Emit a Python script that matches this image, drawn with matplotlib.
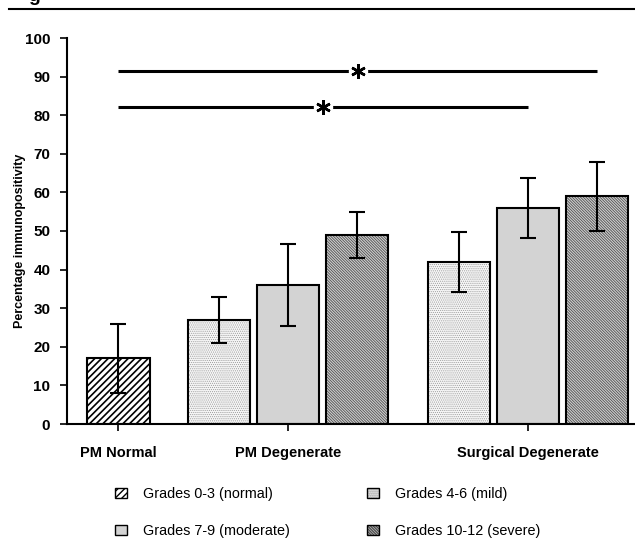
import numpy as np
import matplotlib.pyplot as plt
from matplotlib.patches import Patch
from matplotlib.legend_handler import HandlerTuple

plt.rcParams['font.family'] = ['Liberation Sans', 'DejaVu Sans']

groups = ['PM Normal', 'PM Degenerate', 'Surgical Degenerate']
grades = ['Grades 0-3 (normal)', 'Grades 4-6 (mild)',
          'Grades 7-9 (moderate)', 'Grades 10-12 (severe)']

# (group, grade) pairs, mean and error
bar_group = [0, 1, 1, 1, 2, 2, 2]
bar_grade = [0, 1, 2, 3, 1, 2, 3]
means = [17, 27, 36, 49, 42, 56, 59]
errs = [9, 6, 10.7, 6, 7.8, 7.8, 9]

# significance brackets: (from bar, to bar, height)
sig_from = [0, 0]
sig_to = [6, 5]
sig_y = [91.5, 82]

# styles per grade: face, hatch, hatch colour, hatch lw
faces = ['white', '#f6f6f6', '#d3d3d3', '#cfcfcf']
hatches = ['/////', '........', '', '\\' * 12]
hcolors = ['black', '#9a9a9a', '#d3d3d3', '#505050']
hlws = [1.2, 0.5, 0.5, 0.6]

group_start = [0.0, 1.457, 4.93]
tick_pos = [0.0, 2.457, 5.93]
width = 0.9

fig = plt.figure(figsize=(6.35, 5.4), dpi=100)
ax = fig.add_axes([67/635, 1-424/540, 1-67/635, (424-38)/540])

xs = []
cnt = {0: 0, 1: 0, 2: 0}
for g in bar_group:
    xs.append(group_start[g] + cnt[g])
    cnt[g] += 1

for x, m, e, gr in zip(xs, means, errs, bar_grade):
    with plt.rc_context({'hatch.linewidth': hlws[gr]}):
        ax.bar(x, m, width, color=faces[gr], hatch=hatches[gr],
               edgecolor=hcolors[gr], linewidth=0, zorder=2)
    ax.bar(x, m, width, color='none', edgecolor='black', linewidth=1.5, zorder=3)
    ax.errorbar(x, m, yerr=e, color='black', lw=1.5, capsize=6,
                capthick=1.5, zorder=4)

for a, b2, y in zip(sig_from, sig_to, sig_y):
    ax.plot([xs[a], xs[b2]], [y, y], color='black', lw=2.2, zorder=3,
            solid_capstyle='butt')
    mid = (xs[a] + xs[b2]) / 2
    ax.plot(mid, y, 'o', ms=14, mfc='white', mec='none', zorder=4)
    ax.plot(mid, y, marker=(6, 2, 0), ms=10.5, mec='black', mew=1.8,
            zorder=5)

ax.set_xlim(-0.746, 7.486)
ax.set_ylim(0, 100)
ax.set_yticks(np.arange(0, 101, 10))
ax.set_xticks(tick_pos)
ax.set_xticklabels(groups, fontweight='bold', fontsize=10.5)
for t in ax.get_yticklabels():
    t.set_fontweight('bold')
    t.set_fontsize(11)
ax.tick_params(axis='x', length=5, width=1.2, pad=11)
ax.tick_params(axis='y', length=5, width=1.2, pad=7)
for s in ['top', 'right']:
    ax.spines[s].set_visible(False)
for s in ['left', 'bottom']:
    ax.spines[s].set_linewidth(1.5)
ax.set_ylabel('Percentage immunopositivity', fontweight='bold', fontsize=9)
ax.yaxis.set_label_coords(-0.073, 0.474)

# legend: hatched fill + black outline per entry
handles = []
for i in [0, 2, 1, 3]:
    with plt.rc_context({'hatch.linewidth': hlws[i]}):
        fill = Patch(facecolor=faces[i], hatch=hatches[i],
                     edgecolor=hcolors[i], linewidth=0)
    outline = Patch(facecolor='none', edgecolor='black', linewidth=1.0)
    handles.append((fill, outline))
labels = [grades[i] for i in [0, 2, 1, 3]]
fig.legend(handles, labels, ncol=2, frameon=False, loc='upper left',
           handler_map={tuple: HandlerTuple(ndivide=1, pad=0)},
           bbox_to_anchor=(115/635, 1-487/540), fontsize=10.4,
           handlelength=0.85, handleheight=0.7, handletextpad=1.1,
           columnspacing=5.3, labelspacing=1.6, borderpad=0, borderaxespad=0)

# top rule and cut-off heading
fig.add_artist(plt.Line2D([9/635, 1], [1-9/540, 1-9/540], color='black', lw=1.5))
fig.text(28/635, 1-1/540, 'g', fontweight='bold', fontsize=14, va='baseline')

fig.savefig('out.png', dpi=100)
